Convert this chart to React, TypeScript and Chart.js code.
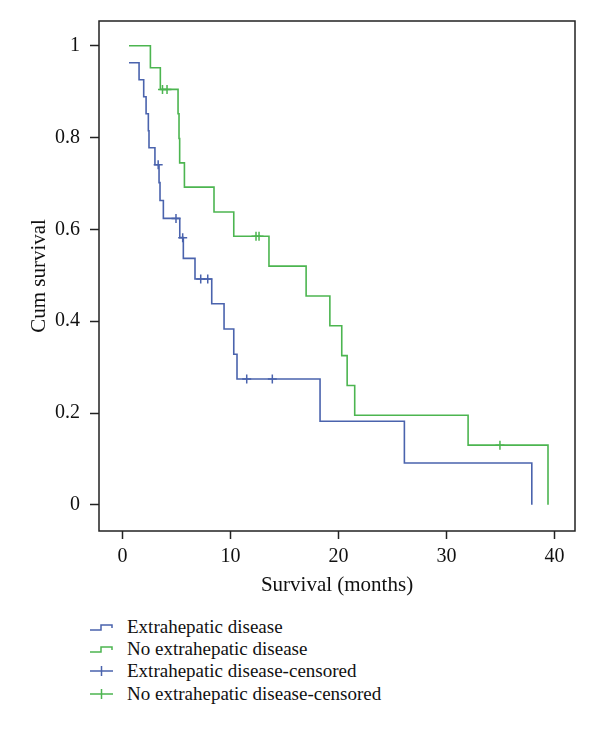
import React, { useEffect, useRef } from "react";
import { Chart, registerables } from "chart.js";

Chart.register(...registerables);

// Kaplan–Meier step data (time in months, cumulative survival after the step)
const extraTimes = [0.6, 1.53, 1.96, 2.18, 2.39, 2.45, 3.0, 3.38, 3.47, 3.78, 5.3, 5.63, 6.71, 8.26, 9.4, 10.3, 10.6, 18.29, 26.1, 37.9];
const extraSurv = [0.963, 0.926, 0.889, 0.852, 0.815, 0.778, 0.741, 0.702, 0.663, 0.624, 0.582, 0.537, 0.492, 0.438, 0.383, 0.328, 0.274, 0.182, 0.091, 0];

const noExtraTimes = [0.6, 2.58, 3.5, 5.14, 5.23, 5.29, 5.73, 8.47, 10.3, 13.56, 17.0, 19.2, 20.3, 20.8, 21.5, 32.0, 39.4];
const noExtraSurv = [1.0, 0.952, 0.905, 0.852, 0.798, 0.745, 0.692, 0.638, 0.585, 0.52, 0.455, 0.39, 0.325, 0.26, 0.195, 0.13, 0];

// Censored observations
const extraCensTimes = [3.3, 4.95, 5.57, 7.24, 7.89, 11.5, 13.87];
const extraCensSurv = [0.741, 0.624, 0.582, 0.492, 0.492, 0.274, 0.274];
const noExtraCensTimes = [3.7, 4.12, 12.36, 12.64, 34.95];
const noExtraCensSurv = [0.905, 0.905, 0.585, 0.585, 0.13];

const xTicks = [0, 10, 20, 30, 40];
const yTicks = [0, 0.2, 0.4, 0.6, 0.8, 1];

const seriesNames = [
  "Extrahepatic disease",
  "No extrahepatic disease",
  "Extrahepatic disease-censored",
  "No extrahepatic disease-censored",
];

const BLUE = "#4a63ad";
const GREEN = "#4cb550";
const FONT = "'Liberation Serif', 'DejaVu Serif', serif";

const toPts = (xs: number[], ys: number[]) => xs.map((x, i) => ({ x, y: ys[i] }));

const framePlugin = {
  id: "frame",
  afterDraw(chart: any) {
    const { ctx, chartArea } = chart;
    ctx.save();
    ctx.strokeStyle = "#222";
    ctx.lineWidth = 1.5;
    ctx.strokeRect(chartArea.left, chartArea.top, chartArea.right - chartArea.left, chartArea.bottom - chartArea.top);
    ctx.restore();
  },
};

function StepIcon({ color }: { color: string }) {
  return (
    <svg width="26" height="12" style={{ display: "block" }}>
      <path d="M2,9 H13 V4 H24 V7" fill="none" stroke={color} strokeWidth="1.5" />
    </svg>
  );
}

function CrossIcon({ color }: { color: string }) {
  return (
    <svg width="26" height="12" style={{ display: "block" }}>
      <path d="M2,6 H25 M13.5,1 V11" fill="none" stroke={color} strokeWidth="1.5" />
    </svg>
  );
}

export default function App() {
  const ref = useRef<HTMLCanvasElement | null>(null);

  useEffect(() => {
    if (!ref.current) return;
    const chart = new Chart(ref.current, {
      type: "line",
      data: {
        datasets: [
          {
            label: seriesNames[0],
            data: toPts(extraTimes, extraSurv),
            borderColor: BLUE,
            borderWidth: 1.6,
            stepped: "before",
            pointRadius: 0,
            fill: false,
          },
          {
            label: seriesNames[1],
            data: toPts(noExtraTimes, noExtraSurv),
            borderColor: GREEN,
            borderWidth: 1.6,
            stepped: "before",
            pointRadius: 0,
            fill: false,
          },
          {
            label: seriesNames[2],
            data: toPts(extraCensTimes, extraCensSurv),
            borderColor: BLUE,
            showLine: false,
            pointStyle: "cross",
            pointRadius: 4.5,
            pointBorderWidth: 1.5,
            pointBorderColor: BLUE,
          },
          {
            label: seriesNames[3],
            data: toPts(noExtraCensTimes, noExtraCensSurv),
            borderColor: GREEN,
            showLine: false,
            pointStyle: "cross",
            pointRadius: 4.5,
            pointBorderWidth: 1.5,
            pointBorderColor: GREEN,
          },
        ],
      },
      options: {
        animation: false,
        responsive: false,
        maintainAspectRatio: false,
        layout: { padding: { left: 0, right: 17, top: 13, bottom: 0 } },
        plugins: { legend: { display: false }, tooltip: { enabled: false } },
        scales: {
          x: {
            type: "linear",
            min: -2.18,
            max: 41.9,
            afterBuildTicks: (s: any) => {
              s.ticks = xTicks.map((v) => ({ value: v }));
            },
            afterFit: (s: any) => {
              s.height = 77;
              s.paddingLeft = 0;
              s.paddingRight = 0;
            },
            grid: { drawOnChartArea: false, drawTicks: true, tickLength: 8, tickColor: "#222", tickWidth: 1.5 },
            border: { display: false },
            ticks: { color: "#111", font: { family: FONT, size: 20 }, padding: 6, maxRotation: 0 },
            title: {
              display: true,
              text: "Survival (months)",
              color: "#111",
              font: { family: FONT, size: 21 },
              padding: { top: 0, bottom: 10 },
            },
          },
          y: {
            type: "linear",
            min: -0.057,
            max: 1.054,
            afterBuildTicks: (s: any) => {
              s.ticks = yTicks.map((v) => ({ value: v }));
            },
            afterFit: (s: any) => {
              s.width = 91;
              s.paddingTop = 0;
              s.paddingBottom = 0;
            },
            grid: { drawOnChartArea: false, drawTicks: true, tickLength: 9, tickColor: "#222", tickWidth: 1.5 },
            border: { display: false },
            ticks: {
              color: "#111",
              font: { family: FONT, size: 20 },
              padding: 10,
              callback: (v: any) => String(Math.round(Number(v) * 10) / 10),
            },
            title: {
              display: true,
              text: "Cum survival",
              color: "#111",
              font: { family: FONT, size: 21 },
              padding: { top: 19, bottom: 0 },
            },
          },
        },
      },
      plugins: [framePlugin],
    });
    return () => chart.destroy();
  }, []);

  const rowTops = [617, 639, 661, 684];
  const icons = [
    <StepIcon color={BLUE} />,
    <StepIcon color={GREEN} />,
    <CrossIcon color={BLUE} />,
    <CrossIcon color={GREEN} />,
  ];

  return (
    <div style={{ position: "relative", width: 584, height: 716, fontFamily: FONT }}>
      <canvas ref={ref} width={584} height={600} style={{ display: "block", width: 584, height: 600 }} />
      {seriesNames.map((name, i) => (
        <div
          key={name}
          style={{
            position: "absolute",
            left: 80,
            top: rowTops[i] - 8,
            height: 20,
            display: "flex",
            alignItems: "center",
            fontSize: 19,
            color: "#111",
            whiteSpace: "nowrap",
          }}
        >
          <span style={{ width: 39, display: "flex" }}>{icons[i]}</span>
          <span>{name}</span>
        </div>
      ))}
    </div>
  );
}
